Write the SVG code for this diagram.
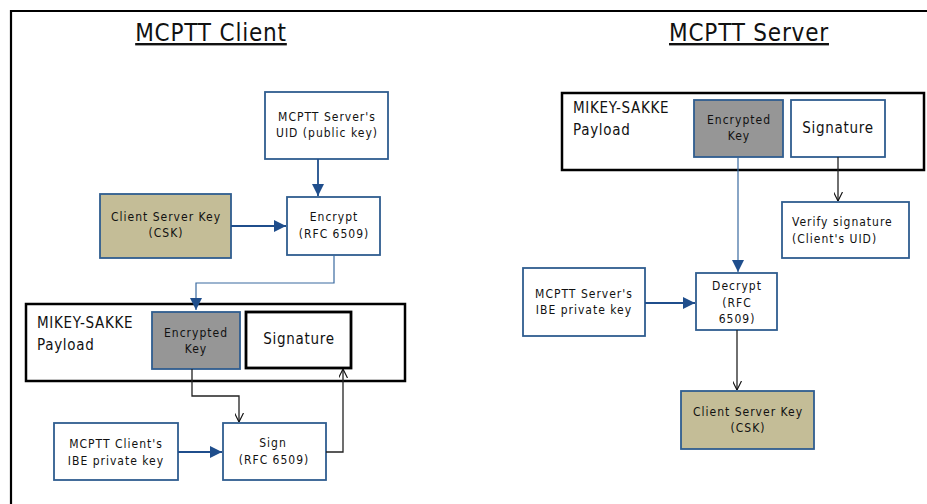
<svg xmlns="http://www.w3.org/2000/svg" width="927" height="504" viewBox="0 0 927 504">
<defs>
<marker id="fbs" viewBox="0 0 10 10" refX="10" refY="5" markerWidth="12" markerHeight="12" markerUnits="userSpaceOnUse" orient="auto"><path d="M0,0 L10,5 L0,10 Z" fill="#1f4e8c"/></marker>
<marker id="ok" viewBox="0 0 10 10" refX="10" refY="5" markerWidth="9" markerHeight="9" markerUnits="userSpaceOnUse" orient="auto"><path d="M0,0 L10,5 L0,10" fill="none" stroke="#111" stroke-width="1.3"/></marker>
</defs>
<style>
text{font-family:"DejaVu Sans Condensed","DejaVu Sans",sans-serif;fill:#111;}
.t{font-size:24px;letter-spacing:0.8px;text-decoration:underline;text-anchor:middle;}
.s{font-size:12px;letter-spacing:1px;text-anchor:middle;}
.sl{font-size:12px;letter-spacing:1px;text-anchor:start;}
.m{font-size:15px;letter-spacing:0.7px;}
.mc{font-size:15px;letter-spacing:0.7px;text-anchor:middle;}
.box{fill:#fff;stroke:#2f5d8f;stroke-width:1.8;}
.tan{fill:#c4bd97;stroke:#2f5d8f;stroke-width:1.8;}
.gry{fill:#969696;stroke:#2f5d8f;stroke-width:1.8;}
.pay{fill:#fff;stroke:#000;stroke-width:2.5;}
.bl{fill:none;stroke:#1f4e8c;stroke-width:1.8;}
.blt{fill:none;stroke:#3a6aa0;stroke-width:1.2;}
.bk{fill:none;stroke:#222;stroke-width:1.3;}
</style>
<rect width="927" height="504" fill="#fff"/>
<path d="M11,504 V11 H927" fill="none" stroke="#000" stroke-width="2.2"/>
<text class="t" x="211" y="41">MCPTT Client</text>
<text class="t" x="749" y="41">MCPTT Server</text>

<g id="c-payload"><rect class="pay" x="26" y="304" width="379" height="77"/><text class="m" x="37" y="328">MIKEY-SAKKE</text><text class="m" x="37" y="350">Payload</text></g>
<g id="s-payload"><rect class="pay" x="562" y="93" width="362" height="77"/><text class="m" x="573" y="113">MIKEY-SAKKE</text><text class="m" x="573" y="135">Payload</text></g>

<g id="c-uid"><rect class="box" x="265" y="92" width="123" height="67"/><text class="s" x="327" y="121">MCPTT Server's</text><text class="s" x="327" y="137">UID (public key)</text></g>
<g id="c-csk"><rect class="tan" x="100" y="194" width="131" height="64"/><text class="s" x="166" y="221">Client Server Key</text><text class="s" x="166" y="237">(CSK)</text></g>
<g id="c-encrypt"><rect class="box" x="287" y="197" width="93" height="58"/><text class="s" x="334" y="221">Encrypt</text><text class="s" x="334" y="238">(RFC 6509)</text></g>
<g id="c-enckey"><rect class="gry" x="152" y="312" width="88" height="57"/><text class="s" x="196" y="337">Encrypted</text><text class="s" x="196" y="353">Key</text></g>
<g id="c-sig"><rect x="246" y="312" width="105" height="56" fill="#fff" stroke="#000" stroke-width="2.8"/><text class="mc" x="299" y="344">Signature</text></g>
<g id="c-ibe"><rect class="box" x="54" y="423" width="124" height="57"/><text class="s" x="116" y="448">MCPTT Client's</text><text class="s" x="116" y="465">IBE private key</text></g>
<g id="c-sign"><rect class="box" x="223" y="423" width="103" height="57"/><text class="s" x="273" y="447">Sign</text><text class="s" x="274" y="464">(RFC 6509)</text></g>

<g id="s-enckey"><rect class="gry" x="694" y="100" width="89" height="57"/><text class="s" x="739" y="124">Encrypted</text><text class="s" x="739" y="140">Key</text></g>
<g id="s-sig"><rect class="box" x="791" y="100" width="94" height="57"/><text class="mc" x="838" y="133">Signature</text></g>
<g id="s-verify"><rect class="box" x="782" y="202" width="127" height="56"/><text class="sl" x="792" y="226">Verify signature</text><text class="sl" x="792" y="243">(Client's UID)</text></g>
<g id="s-ibe"><rect class="box" x="523" y="268" width="122" height="68"/><text class="s" x="584" y="298">MCPTT Server's</text><text class="s" x="584" y="314">IBE private key</text></g>
<g id="s-decrypt"><rect class="box" x="696" y="273" width="81" height="57"/><text class="s" x="737" y="290">Decrypt</text><text class="s" x="737" y="307">(RFC</text><text class="s" x="737" y="323">6509)</text></g>
<g id="s-csk"><rect class="tan" x="681" y="391" width="133" height="58"/><text class="s" x="748" y="416">Client Server Key</text><text class="s" x="748" y="432">(CSK)</text></g>

<g id="connectors">
<path class="bl" d="M318,159 V196" marker-end="url(#fbs)"/>
<path class="bl" d="M231,226 H286" marker-end="url(#fbs)"/>
<path class="blt" d="M334,255 V283 H196 V310" marker-end="url(#fbs)"/>
<path class="bk" d="M192,369 V396 H239 V422" marker-end="url(#ok)"/>
<path class="bl" d="M178,452 H222" marker-end="url(#fbs)"/>
<path class="bk" d="M326,452 H343 V369" marker-end="url(#ok)"/>
<path class="bk" d="M838,157 V201" marker-end="url(#ok)"/>
<path class="blt" d="M738,157 V272" marker-end="url(#fbs)"/>
<path class="bl" d="M645,303 H695" marker-end="url(#fbs)"/>
<path class="bk" d="M737,330 V390" marker-end="url(#ok)"/>
</g>
</svg>
